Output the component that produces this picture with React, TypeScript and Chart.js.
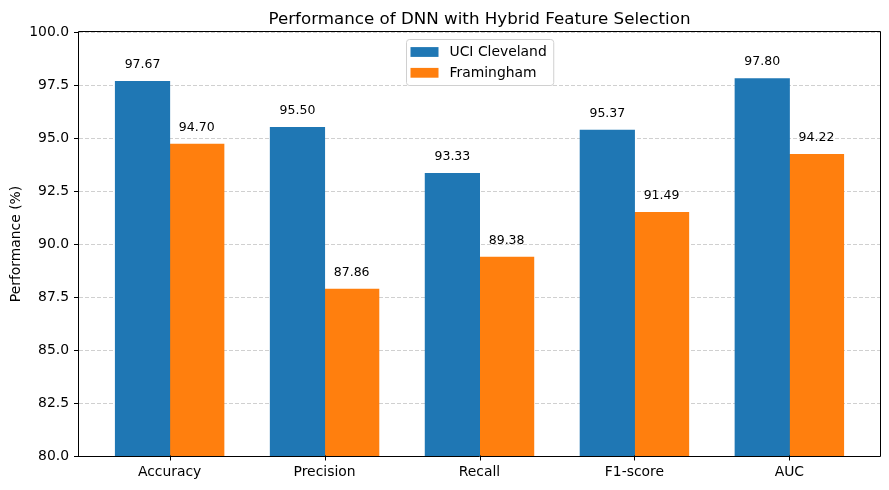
import React, { useEffect, useRef } from 'react';
import { Chart, registerables } from 'chart.js';

Chart.register(...registerables);

const titleText = 'Performance of DNN with Hybrid Feature Selection';
const yAxisTitle = 'Performance (%)';
const categories = ['Accuracy', 'Precision', 'Recall', 'F1-score', 'AUC'];
const seriesLabels = ['UCI Cleveland', 'Framingham'];
const uciValues = [97.67, 95.5, 93.33, 95.37, 97.8];
const framinghamValues = [94.7, 87.86, 89.38, 91.49, 94.22];
const seriesColors = ['#1f77b4', '#ff7f0e'];
const yMin = 80;
const yMax = 100;
const yStep = 2.5;

const FONT = "'DejaVu Sans', 'Liberation Sans', sans-serif";

const al = (v: number) => Math.round(v) + 0.5;

const decorPlugin = {
  id: 'decor',
  afterDraw(chart: any) {
    const { ctx, chartArea } = chart;
    const { left, right, top, bottom } = chartArea;
    ctx.save();

    // value labels
    ctx.fillStyle = '#000';
    ctx.font = `12.5px ${FONT}`;
    ctx.textAlign = 'center';
    ctx.textBaseline = 'alphabetic';
    chart.data.datasets.forEach((ds: any, di: number) => {
      const meta = chart.getDatasetMeta(di);
      meta.data.forEach((bar: any, j: number) => {
        const v = ds.data[j].y;
        const py = chart.scales.y.getPixelForValue(v + 0.5) - 3;
        ctx.fillText(v.toFixed(2), bar.x, py);
      });
    });

    // frame
    ctx.strokeStyle = '#000';
    ctx.lineWidth = 1;
    ctx.beginPath();
    ctx.rect(al(left) - 1, al(top) - 1, al(right) - al(left) + 1, al(bottom) - al(top) + 1);
    ctx.stroke();

    // x tick marks
    const xs = chart.scales.x;
    ctx.beginPath();
    categories.forEach((_, i) => {
      const px = al(xs.getPixelForValue(i));
      ctx.moveTo(px, al(bottom) - 1);
      ctx.lineTo(px, al(bottom) + 4);
    });
    ctx.stroke();

    // title
    ctx.font = `16.7px ${FONT}`;
    ctx.textAlign = 'center';
    ctx.textBaseline = 'alphabetic';
    ctx.fillText(titleText, (left + right) / 2, 24);

    // y axis title
    ctx.save();
    ctx.translate(16, (top + bottom) / 2);
    ctx.rotate(-Math.PI / 2);
    ctx.font = `13.9px ${FONT}`;
    ctx.textAlign = 'center';
    ctx.textBaseline = 'middle';
    ctx.fillText(yAxisTitle, 0, 0);
    ctx.restore();

    // legend
    ctx.font = `13.9px ${FONT}`;
    const labels = chart.data.datasets.map((d: any) => d.label);
    const textW = Math.max(...labels.map((l: string) => ctx.measureText(l).width));
    const boxW = 4 + 28 + 11 + textW + 7;
    const boxH = 46;
    const bx = Math.round((left + right) / 2 - boxW / 2) + 0.5;
    const by = Math.round(top + 6.5) + 0.5;
    const r = 3;
    ctx.beginPath();
    ctx.moveTo(bx + r, by);
    ctx.lineTo(bx + boxW - r, by);
    ctx.arcTo(bx + boxW, by, bx + boxW, by + r, r);
    ctx.lineTo(bx + boxW, by + boxH - r);
    ctx.arcTo(bx + boxW, by + boxH, bx + boxW - r, by + boxH, r);
    ctx.lineTo(bx + r, by + boxH);
    ctx.arcTo(bx, by + boxH, bx, by + boxH - r, r);
    ctx.lineTo(bx, by + r);
    ctx.arcTo(bx, by, bx + r, by, r);
    ctx.closePath();
    ctx.fillStyle = 'rgba(255,255,255,0.8)';
    ctx.fill();
    ctx.strokeStyle = '#d0d0d0';
    ctx.lineWidth = 1;
    ctx.stroke();
    chart.data.datasets.forEach((d: any, i: number) => {
      const cy = by + 12.5 + i * 20.8;
      ctx.fillStyle = d.backgroundColor;
      ctx.fillRect(bx + 4, cy - 4.9, 28, 9.8);
      ctx.fillStyle = '#000';
      ctx.textAlign = 'left';
      ctx.textBaseline = 'middle';
      ctx.fillText(d.label, bx + 43, cy + 0.5);
    });

    ctx.restore();
  },
};

export default function App() {
  const ref = useRef<HTMLCanvasElement | null>(null);

  useEffect(() => {
    if (!ref.current) return;
    const seriesValues = [uciValues, framinghamValues];
    const chart = new Chart(ref.current, {
      type: 'bar',
      data: {
        datasets: seriesValues.map((vals, si) => ({
          label: seriesLabels[si],
          data: vals.map((v, i) => ({ x: i, y: v })),
          backgroundColor: seriesColors[si],
          borderWidth: 0,
          inflateAmount: 0.5,
          categoryPercentage: 0.7,
          barPercentage: 1.0,
        })),
      },
      options: {
        animation: false,
        responsive: true,
        maintainAspectRatio: false,
        devicePixelRatio: 1,
        layout: { padding: { left: 0, top: 32, right: 9, bottom: 0 } },
        plugins: {
          legend: { display: false },
          title: { display: false },
          tooltip: { enabled: false },
        },
        scales: {
          x: {
            type: 'linear',
            min: -0.585,
            max: categories.length - 1 + 0.585,
            offset: false,
            afterBuildTicks: (scale: any) => {
              scale.ticks = categories.map((_, i) => ({ value: i }));
            },
            afterFit: (scale: any) => {
              scale.height = 34;
            },
            ticks: {
              autoSkip: false,
              maxRotation: 0,
              padding: 8,
              color: '#000',
              font: { family: FONT, size: 13.9 },
              callback: (v: any) => categories[Math.round(Number(v))] ?? '',
            },
            grid: {
              display: true,
              offset: false,
              drawOnChartArea: false,
              drawTicks: false,
            },
            border: { display: false },
          },
          y: {
            type: 'linear',
            min: yMin,
            max: yMax,
            afterFit: (scale: any) => {
              scale.width = 79;
            },
            ticks: {
              stepSize: yStep,
              padding: 5,
              color: '#000',
              font: { family: FONT, size: 13.9 },
              callback: (v: any) => Number(v).toFixed(1),
            },
            grid: {
              color: 'rgba(176,176,176,0.6)',
              lineWidth: 1,
              tickLength: 5,
              tickColor: '#000',
              tickWidth: 1,
              tickBorderDash: [],
            },
            border: { display: false, dash: [4, 2] },
          },
        },
      } as any,
      plugins: [decorPlugin],
    });
    return () => chart.destroy();
  }, []);

  return (
    <div style={{ position: 'fixed', left: 0, top: 0, width: 889, height: 490, background: '#fff' }}>
      <canvas ref={ref} />
    </div>
  );
}
